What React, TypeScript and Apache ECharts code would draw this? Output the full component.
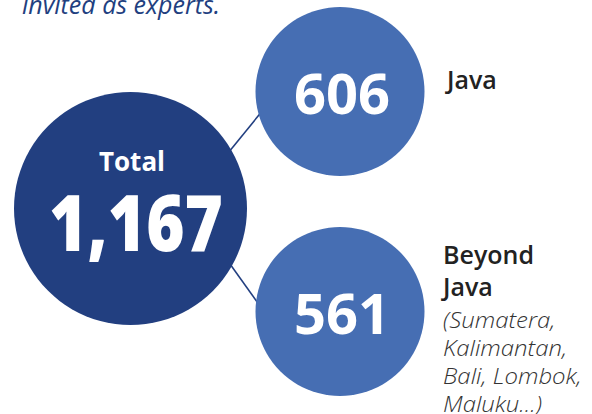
import React, { useEffect, useRef } from "react";
import * as echarts from "echarts";

const headline = "invited as experts.";
const totalLabel = "Total";
const totalValue = 1167;
const categories = ["Java", "Beyond Java"];
const values = [606, 561];
const subNotes = ["(Sumatera,", "Kalimantan,", "Bali, Lombok,", "Maluku...)"];

const DARK = "#223F80";
const MID = "#466EB3";
const FONT = "'Open Sans', 'Noto Sans', sans-serif";

export default function App() {
  const ref = useRef<HTMLDivElement>(null);
  useEffect(() => {
    if (!ref.current) return;
    const chart = echarts.init(ref.current, null, { renderer: "svg" });
    const fmt = (v: number) => v.toLocaleString("en-US");
    const bigC = { x: 130.5, y: 208.5, r: 116.5 };
    const smallC = [
      { x: 340, y: 91.5, r: 84.5 },
      { x: 340, y: 311.5, r: 84.5 },
    ];
    const graphic: any[] = [
      {
        type: "text",
        x: 22,
        y: 4,
        style: { text: headline, fill: DARK, font: `italic 400 25px ${FONT}`, textAlign: "left", textVerticalAlign: "middle" },
      },
      {
        type: "line",
        z: 1,
        shape: { x1: 215, y1: 169, x2: 272, y2: 99 },
        style: { stroke: DARK, lineWidth: 1.6 },
      },
      {
        type: "line",
        z: 1,
        shape: { x1: 215, y1: 243, x2: 270, y2: 320 },
        style: { stroke: DARK, lineWidth: 1.6 },
      },
      {
        type: "circle",
        z: 2,
        shape: { cx: bigC.x, cy: bigC.y, r: bigC.r },
        style: { fill: DARK },
      },
      {
        type: "text",
        z: 3,
        x: 132,
        y: 161,
        style: { text: totalLabel, fill: "#fff", font: `700 26px ${FONT}`, textAlign: "center", textVerticalAlign: "middle" },
      },
      {
        type: "text",
        z: 3,
        x: 136,
        y: 221,
        scaleX: 0.84,
        style: { text: fmt(totalValue), fill: "#fff", font: `800 78px ${FONT}`, textAlign: "center", textVerticalAlign: "middle" },
      },
    ];
    smallC.forEach((c, i) => {
      graphic.push({
        type: "circle",
        z: 2,
        shape: { cx: c.x, cy: c.y, r: c.r },
        style: { fill: MID },
      });
      graphic.push({
        type: "text",
        z: 3,
        x: c.x + 2,
        y: c.y,
        style: { text: fmt(values[i]), fill: "#fff", font: `700 56px ${FONT}`, textAlign: "center", textVerticalAlign: "middle" },
      });
    });
    graphic.push({
      type: "text",
      x: 447,
      y: 78.5,
      style: { text: categories[0], fill: "#222", font: `600 25px ${FONT}`, textAlign: "left", textVerticalAlign: "middle" },
    });
    graphic.push({
      type: "text",
      x: 443,
      y: 237.5,
      style: {
        text: categories[1].split(" ").join("\n"),
        fill: "#222",
        font: `600 25px ${FONT}`,
        lineHeight: 32,
        textAlign: "left",
        textVerticalAlign: "top",
      },
    });
    graphic.push({
      type: "text",
      x: 443,
      y: 305,
      scaleX: 1.07,
      style: {
        text: subNotes.join("\n"),
        fill: "#333",
        font: `italic 300 22.4px ${FONT}`,
        lineHeight: 28,
        textAlign: "left",
        textVerticalAlign: "top",
      },
    });
    chart.setOption({ animation: false, backgroundColor: "#fff", graphic });
    return () => chart.dispose();
  }, []);
  return <div ref={ref} style={{ position: "fixed", left: 0, top: 0, width: 592, height: 414 }} />;
}
